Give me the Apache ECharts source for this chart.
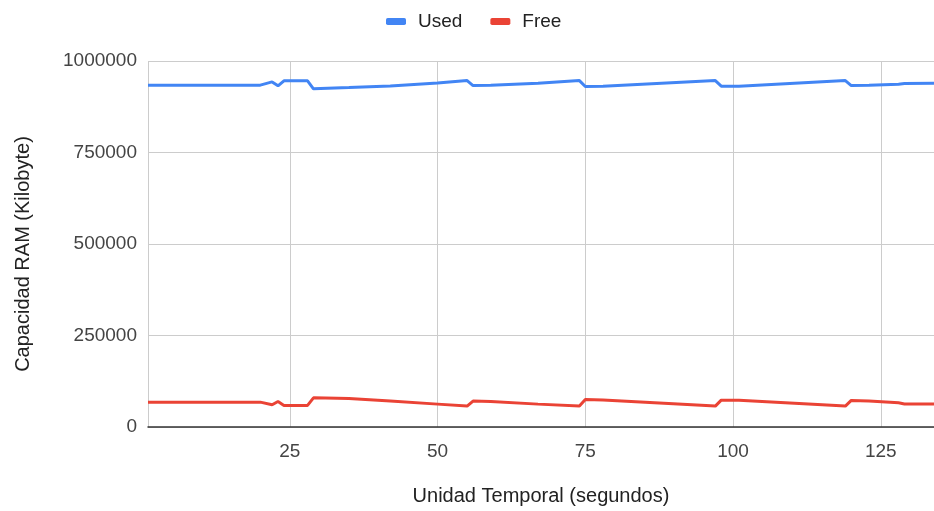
<!DOCTYPE html>
<html>
<head>
<meta charset="utf-8">
<script src="https://cdn.jsdelivr.net/npm/echarts@6/dist/echarts.min.js"></script>
<style>
  html, body { margin: 0; padding: 0; background: #fff; }
  #chart { width: 934px; height: 511px; }
</style>
</head>
<body>
<div id="chart"></div>
<script>
// Time in seconds at which memory was sampled
const seconds = [1, 20, 22, 23, 24, 28, 29, 35, 42, 50, 55, 56, 59, 67, 74, 75, 78, 97, 98, 101, 119, 120, 123, 128, 129, 134];
// RAM in use (kilobytes)
const used = [934000, 934000, 942900, 932100, 945700, 945700, 923900, 927400, 932000, 940200, 946500, 932900, 934000, 939400, 946500, 930200, 931300, 946500, 931300, 931300, 946500, 932900, 934000, 936500, 938500, 939400];
// Free RAM (kilobytes)
const free = [67900, 67900, 60600, 69800, 59000, 59000, 79600, 78000, 71000, 62500, 57100, 70700, 69500, 62500, 57100, 75300, 74000, 57100, 73400, 73400, 57100, 72600, 71000, 66000, 63000, 62500];
// Y axis ticks
const yTicks = [0, 250000, 500000, 750000, 1000000];

const pair = (vals) => seconds.map((s, i) => [s, vals[i]]);

const chart = echarts.init(document.getElementById('chart'), null, { renderer: 'canvas' });
const font = 'Liberation Sans, Arial, sans-serif';

chart.setOption({
  animation: false,
  backgroundColor: '#ffffff',
  textStyle: { fontFamily: font },
  legend: {
    top: 7,
    left: 381,
    itemWidth: 20,
    itemHeight: 7,
    itemGap: 28,
    icon: 'roundRect',
    textStyle: { fontSize: 19, color: '#222', fontFamily: font, padding: [0, 0, 0, 7] },
    data: ['Used', 'Free']
  },
  grid: { left: 148, right: 0, top: 61, bottom: 82, containLabel: false },
  xAxis: {
    type: 'value',
    min: 1,
    max: 134,
    minInterval: 25,
    maxInterval: 25,
    name: 'Unidad Temporal (segundos)',
    nameLocation: 'middle',
    nameGap: 59,
    nameTextStyle: { fontSize: 20, color: '#222', fontFamily: font },
    axisLine: { show: true, onZero: false, lineStyle: { color: '#333', width: 1.5 } },
    axisTick: { show: false },
    axisLabel: { fontSize: 19, color: '#444', margin: 15, showMinLabel: false, showMaxLabel: false, fontFamily: font },
    splitLine: { show: true, lineStyle: { color: '#cccccc', width: 1 } }
  },
  yAxis: {
    type: 'value',
    min: yTicks[0],
    max: yTicks[yTicks.length - 1],
    interval: yTicks[1] - yTicks[0],
    name: 'Capacidad RAM (Kilobyte)',
    nameLocation: 'middle',
    nameGap: 115,
    nameTextStyle: { fontSize: 20, color: '#222', fontFamily: font, padding: [0, 20, 0, 0] },
    axisLine: { show: false },
    axisTick: { show: false },
    axisLabel: { fontSize: 19, color: '#444', margin: 11, fontFamily: font, formatter: (v) => String(v) },
    splitLine: { show: true, lineStyle: { color: '#cccccc', width: 1 } }
  },
  series: [
    {
      name: 'Used',
      type: 'line',
      data: pair(used),
      showSymbol: false,
      symbol: 'none',
      lineStyle: { color: '#4285F4', width: 3 },
      itemStyle: { color: '#4285F4' }
    },
    {
      name: 'Free',
      type: 'line',
      data: pair(free),
      showSymbol: false,
      symbol: 'none',
      lineStyle: { color: '#EA4335', width: 3 },
      itemStyle: { color: '#EA4335' }
    }
  ]
});
</script>
</body>
</html>
